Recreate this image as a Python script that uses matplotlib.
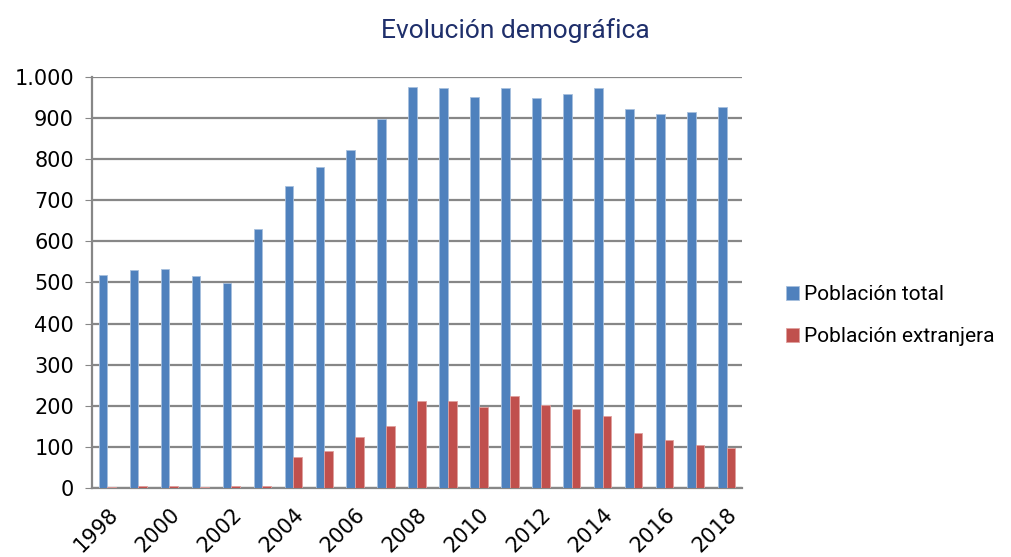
import numpy as np
import matplotlib
matplotlib.use('Agg')
import matplotlib.pyplot as plt
from matplotlib.ticker import FuncFormatter

# data
years = list(range(1998, 2019))
total = [517, 530, 533, 516, 498, 631, 734, 781, 821, 898, 975,
         974, 952, 972, 948, 958, 972, 921, 910, 915, 926]
extranjera = [3, 5, 5, 3, 4, 4, 76, 90, 123, 151, 211,
              212, 198, 223, 202, 191, 174, 134, 116, 104, 97]

BLUE = '#4F81BD'
RED = '#C0504D'
GRID = '#878787'

plt.rcParams['font.family'] = ['DejaVu Sans']

fig = plt.figure(figsize=(10.11, 5.57), dpi=100)
ax = fig.add_axes([0.091, 0.124, 0.643, 0.738])

x = np.arange(len(years))
w = 0.28
ax.bar(x - w/2, total, w, color=BLUE, edgecolor='#A7C0DE', linewidth=0.6,
       label='Población total', zorder=3)
ax.bar(x + w/2, extranjera, w, color=RED, edgecolor='#E0A09E', linewidth=0.6,
       label='Población extranjera', zorder=3)

ax.set_xlim(-0.5, len(years) - 0.5)
ax.set_ylim(0, 1000)
ax.set_yticks(range(0, 1001, 100))
ax.yaxis.set_major_formatter(FuncFormatter(lambda v, p: f'{int(v):,}'.replace(',', '.')))
ax.grid(axis='y', color=GRID, linewidth=1.6, zorder=0)

ax.set_xticks(x[::2])
ax.set_xticklabels([str(y) for y in years[::2]], rotation=45, ha='right',
                   va='top', rotation_mode='anchor', fontsize=15)
ax.tick_params(axis='x', length=0, pad=12)
ax.tick_params(axis='y', labelsize=15, length=5, color=GRID, pad=8)

for s in ['top', 'right']:
    ax.spines[s].set_visible(False)
for s in ['left', 'bottom']:
    ax.spines[s].set_color(GRID)
    ax.spines[s].set_linewidth(1.6)

fig.text(0.51, 0.945, 'Evolución demográfica', ha='center', va='center',
         fontsize=19, color='#1F2F6B', family=['Roboto', 'DejaVu Sans'])

leg = fig.legend(loc='center left', bbox_to_anchor=(0.759, 0.433), frameon=False,
                 handlelength=0.6, handleheight=0.6, handletextpad=0.25,
                 labelspacing=1.1, prop={'family': ['Roboto', 'DejaVu Sans'], 'size': 15})

fig.savefig('out.png', dpi=100)
